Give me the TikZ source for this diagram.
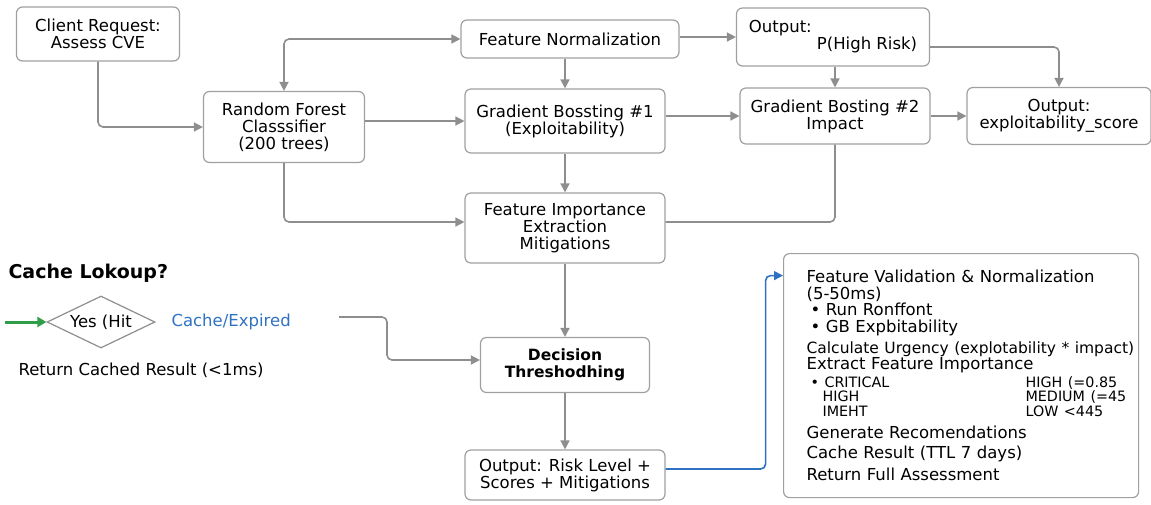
\documentclass[tikz,border=0pt]{standalone}
\usepackage{fontspec}
\setmainfont{DejaVu Sans}
\usetikzlibrary{arrows.meta,positioning,shapes.geometric}
\definecolor{linegray}{HTML}{8E8E8E}
\definecolor{boxgray}{HTML}{A0A0A0}
\definecolor{hitgreen}{HTML}{2E9E48}
\definecolor{linkblue}{HTML}{2F72C4}

\begin{document}
\begin{tikzpicture}[x=1pt,y=-1pt,>={Triangle[length=9pt,width=9pt]},
  box/.style={draw=boxgray,line width=1.2pt,rounded corners=6pt,fill=white,
    align=center,inner sep=2pt,font=\fontsize{16.5}{17}\selectfont},
  flow/.style={->,draw=linegray,line width=1.6pt,rounded corners=5pt},
  plain/.style={font=\fontsize{16.5}{17}\selectfont}]
\useasboundingbox (0,0) rectangle (1151,504);

% top row of the pipeline
\node[box,minimum width=163,minimum height=54] (client) at (98,34) {Client Request:\\Assess CVE};
\node[box,minimum width=161,minimum height=71] (rf) at (284,127) {Random Forest\\Classsifier\\(200 trees)};
\node[box,minimum width=218,minimum height=38] (fn) at (570,39) {Feature Normalization};
\node[box,minimum width=200,minimum height=64] (gb1) at (565,121) {Gradient Bossting \#1\\(Exploitability)};
\node[box,minimum width=200,minimum height=70] (fi) at (565,228) {Feature Importance\\Extraction\\Mitigations};
\node[box,minimum width=193,minimum height=58,align=left] (outp) at (833,37) {Output:\\\hspace*{68pt}P(High Risk)};
\node[box,minimum width=190,minimum height=56] (gb2) at (835,116) {Gradient Bosting \#2\\Impact};
\node[box,minimum width=184,minimum height=57] (expl) at (1059,116) {Output:\\exploitability\_score};

% lower part
\node[box,minimum width=169,minimum height=55,font=\fontsize{15.5}{17}\selectfont\bfseries] (dec) at (565,365) {Decision\\Threshodhing};
\node[box,minimum width=200,minimum height=50] (out) at (565,475) {Output: Risk Level +\\Scores + Mitigations};

% cache branch
\node[anchor=west,font=\fontsize{19}{21}\selectfont\bfseries] (lookup) at (5,273) {Cache Lokoup?};
\node[diamond,draw=linegray,line width=1.2pt,aspect=2.1,minimum width=108,minimum height=52,inner sep=0pt,plain] (hit) at (101,322) {Yes (Hit};
\node[anchor=west,text=linkblue,plain] (expired) at (168,322) {Cache/Expired};
\node[anchor=west,plain] (cached) at (15,370) {Return Cached Result (<1ms)};
\coordinate (entry) at (5,322);
\coordinate (miss) at (339,317);

% assessment details
\node[box,anchor=north west,minimum width=355,minimum height=244,align=left,inner xsep=23pt,
  text width=309pt,font=\fontsize{16.5}{16.5}\selectfont] (steps) at (783,253) {%
Feature Validation \& Normalization\\[0.5pt]
(5-50ms)\\[-0.5pt]
\hspace*{4pt}• Run Ronffont\\[0.5pt]
\hspace*{4pt}• GB Expbitability\\[4.5pt]
\mbox{\fontsize{15.5}{16.5}\selectfont Calculate Urgency (explotability * impact)}\\[-0.5pt]
Extract Feature Importance\\[1.5pt]
\mbox{\fontsize{14.3}{16.5}\selectfont\hspace*{4pt}\makebox[215pt][l]{• CRITICAL}HIGH (=0.85}\\[-2.5pt]
\mbox{\fontsize{14.3}{16.5}\selectfont\hspace*{16pt}\makebox[203pt][l]{HIGH}MEDIUM (=45}\\[-1.5pt]
\mbox{\fontsize{14.3}{16.5}\selectfont\hspace*{16pt}\makebox[203pt][l]{IMEHT}LOW <445}\\[5.5pt]
Generate Recomendations\\[3.5pt]
Cache Result (TTL 7 days)\\[5.5pt]
Return Full Assessment};

% connectors
\draw[flow] (client.south) |- (rf.west);
\draw[flow,<->] (rf.north) |- (fn.west);
\draw[flow] (fn.south -| gb1.north) -- (gb1.north);
\draw[flow] (rf.east |- gb1.west) -- (gb1.west);
\draw[flow] (gb1.east |- gb2.west) -- (gb2.west);
\draw[flow] (fn.east |- outp.west) -- (outp.west);
\draw[flow] (outp.south -| gb2.north) -- (gb2.north);
\draw[flow] ([yshift=-10pt]outp.east) -| (expl.north);
\draw[flow] (gb2) -- (expl);
\draw[flow] (gb1) -- (fi);
\draw[flow] (rf.south) |- ([yshift=6pt]fi.west);
\draw[flow,-] (gb2.south) |- ([yshift=6pt]fi.east);
\draw[flow] (fi) -- (dec);
\draw[flow] (dec) -- (out);
\draw[flow] (miss) -- ++(48,0) |- ([yshift=5pt]dec.west);
\draw[->,hitgreen,line width=3pt,>={Triangle[length=9pt,width=10pt]}] (entry) -- (hit.west);
\draw[flow,draw=linkblue] ([yshift=6pt]out.east) -- ++(100,0) |- ([yshift=100pt]steps.west);
\end{tikzpicture}
\end{document}
